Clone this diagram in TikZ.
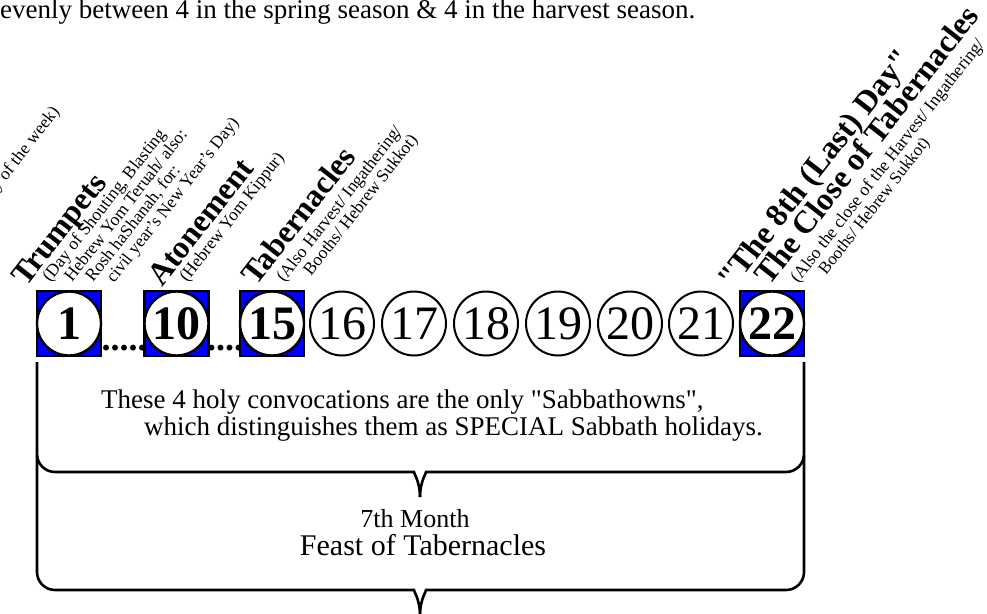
\documentclass[tikz,border=0pt]{standalone}
\usepackage{fontspec}
\setmainfont{Liberation Serif}
\tikzset{
  lead/.style={anchor=base west, inner sep=0pt, font=\fontsize{27}{30}\selectfont},
  feast/.style={anchor=base west, inner sep=0pt, rotate=52, font=\fontsize{32}{36}\selectfont\bfseries},
  note/.style={anchor=base west, inner sep=0pt, rotate=52, font=\fontsize{17.5}{20}\selectfont},
  holysq/.style={rectangle, draw=black, line width=2.4pt, fill=blue, minimum width=64pt, minimum height=65pt, inner sep=0pt},
  holy/.style={circle, draw=black, line width=2.4pt, fill=white, minimum size=64pt, inner sep=0pt, font=\fontsize{48}{48}\selectfont\bfseries},
  day/.style={circle, draw=black, line width=2pt, fill=white, minimum size=64pt, inner sep=0pt, font=\fontsize{48}{48}\selectfont},
  dotrow/.style={anchor=base, inner sep=0pt, font=\fontsize{36}{36}\selectfont\bfseries},
  caption/.style={anchor=base west, inner sep=0pt, font=\fontsize{27}{30}\selectfont},
  title/.style={anchor=base, inner sep=0pt, font=\fontsize{30}{34}\selectfont},
  brace/.style={line width=2.6pt, rounded corners=18pt}
}

\begin{document}
\begin{tikzpicture}[x=1pt, y=-1pt]
		%%%%% FRAME %%%%%
		\useasboundingbox (0,0) rectangle (987,613);
		\clip (0,0) rectangle (987,613);
		
		\node[lead] (intro) at (0,18) {evenly between 4 in the spring season \& 4 in the harvest season.};
		
		%%%%% LABELS %%%%%
		\node[note, anchor=base east] (week) at (60,112) {day of the week)};
		
		\node[feast] (trumpets) at (26,288) {Trumpets};
		\node[note] (trumpetsA) at (50,283) {(Day of Shouting, Blasting};
		\node[note] (trumpetsB) at (72,283) {Hebrew Yom Teruah/ also:};
		\node[note] (trumpetsC) at (93,283) {Rosh haShanah, for:};
		\node[note] (trumpetsD) at (114,284) {civil year's New Year's Day)};
		
		\node[feast] (atonement) at (162,288) {Atonement};
		\node[note] (atonementA) at (187,283) {(Hebrew Yom Kippur)};
		
		\node[feast] (booths) at (256,287) {Tabernacles};
		\node[note] (boothsA) at (284,283) {(Also Harvest/ Ingathering/};
		\node[note] (boothsB) at (311,277) {Booths/ Hebrew Sukkot)};
		
		\node[feast] (eighth) at (732,291) {\textquotedbl The 8th (Last) Day\textquotedbl};
		\node[feast] (closing) at (769,287) {The Close of Tabernacles};
		\node[note] (closingA) at (798,284) {(Also the close of the Harvest/ Ingathering/};
		\node[note, font=\fontsize{17}{20}\selectfont] (closingB) at (826,276) {Booths/ Hebrew Sukkot)};
		
		%%%%% DAYS %%%%%
		\node[holysq] (b1) at (69,323.5) {};
		\node[holy] (d1) at (b1) {1};
		\node[dotrow] (gapA) at (124,350) {.....};
		\node[holysq] (b10) at (176.5,323.5) {};
		\node[holy] (d10) at (b10) {10};
		\node[dotrow] (gapB) at (225,350) {....};
		\node[holysq] (b15) at (272,323.5) {};
		\node[holy] (d15) at (b15) {15};
		
		\node[day] (d16) at (342,323.5) {16};
		\node[day] (d17) at (414,323.5) {17};
		\node[day] (d18) at (486,323.5) {18};
		\node[day] (d19) at (558,323.5) {19};
		\node[day] (d20) at (630,323.5) {20};
		\node[day] (d21) at (701,323.5) {21};
		
		\node[holysq] (b22) at (772,323.5) {};
		\node[holy] (d22) at (b22) {22};
		
		%%%%% BRACES %%%%%
		\draw[brace] (37,362) -- (37,472) -- (396,472) .. controls (413,472) and (420,481) .. (420,497);
		\draw[brace] (804,362) -- (804,472) -- (444,472) .. controls (427,472) and (420,481) .. (420,497);
		
		\node[caption] (convA) at (101,408) {These 4 holy convocations are the only \textquotedbl Sabbathowns\textquotedbl,};
		\node[caption] (convB) at (144,435) {which distinguishes them as SPECIAL Sabbath holidays.};
		
		\draw[brace] (37,455) -- (37,590) -- (396,590) .. controls (413,590) and (420,599) .. (420,615);
		\draw[brace] (804,455) -- (804,590) -- (444,590) .. controls (427,590) and (420,599) .. (420,615);
		
		\node[title, font=\fontsize{26}{30}\selectfont] (month) at (415,527) {7th Month};
		\node[title] (feastname) at (423,555) {Feast of Tabernacles};
		
	\end{tikzpicture}
\end{document}
